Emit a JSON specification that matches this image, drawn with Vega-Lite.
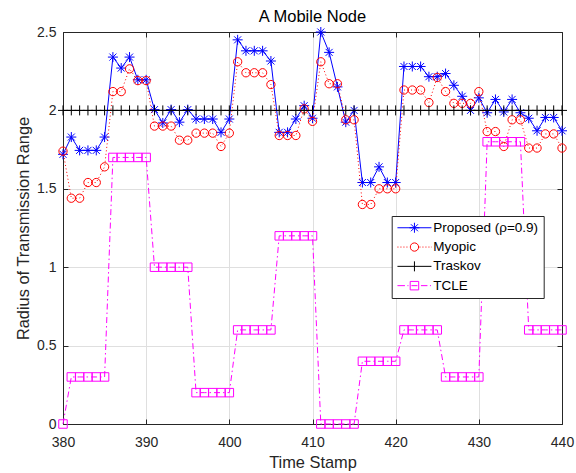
{
  "$schema": "https://vega.github.io/schema/vega-lite/v6.json",
  "width": 499,
  "height": 392,
  "autosize": {"type": "none"},
  "padding": {"left": 63, "top": 32, "right": 14, "bottom": 49},
  "background": "white",
  "config": {
    "font": "Liberation Sans",
    "view": {"stroke": "#262626", "strokeWidth": 1}
  },
  "title": {"text": "A Mobile Node", "fontSize": 16.5, "fontWeight": "normal", "color": "#000000", "font": "Liberation Sans", "frame": "group", "anchor": "middle", "offset": -0.5},
  "data": {"values": [
    {"s":"Proposed","t":380,"v":1.72},{"s":"Proposed","t":381,"v":1.83},{"s":"Proposed","t":382,"v":1.745},{"s":"Proposed","t":383,"v":1.745},{"s":"Proposed","t":384,"v":1.745},{"s":"Proposed","t":385,"v":1.83},{"s":"Proposed","t":386,"v":2.34},{"s":"Proposed","t":387,"v":2.27},{"s":"Proposed","t":388,"v":2.34},{"s":"Proposed","t":389,"v":2.195},{"s":"Proposed","t":390,"v":2.195},
    {"s":"Proposed","t":391,"v":2.005},{"s":"Proposed","t":392,"v":1.92},{"s":"Proposed","t":393,"v":2.005},{"s":"Proposed","t":394,"v":1.925},{"s":"Proposed","t":395,"v":2.005},{"s":"Proposed","t":396,"v":1.945},{"s":"Proposed","t":397,"v":1.945},{"s":"Proposed","t":398,"v":1.945},{"s":"Proposed","t":399,"v":1.86},{"s":"Proposed","t":400,"v":1.945},
    {"s":"Proposed","t":401,"v":2.45},{"s":"Proposed","t":402,"v":2.38},{"s":"Proposed","t":403,"v":2.38},{"s":"Proposed","t":404,"v":2.38},{"s":"Proposed","t":405,"v":2.315},{"s":"Proposed","t":406,"v":1.86},{"s":"Proposed","t":407,"v":1.86},{"s":"Proposed","t":408,"v":1.945},{"s":"Proposed","t":409,"v":2.03},{"s":"Proposed","t":410,"v":1.95},
    {"s":"Proposed","t":411,"v":2.5},{"s":"Proposed","t":412,"v":2.37},{"s":"Proposed","t":413,"v":2.15},{"s":"Proposed","t":414,"v":1.925},{"s":"Proposed","t":415,"v":2.0},{"s":"Proposed","t":416,"v":1.54},{"s":"Proposed","t":417,"v":1.54},{"s":"Proposed","t":418,"v":1.64},{"s":"Proposed","t":419,"v":1.54},{"s":"Proposed","t":420,"v":1.54},
    {"s":"Proposed","t":421,"v":2.28},{"s":"Proposed","t":422,"v":2.28},{"s":"Proposed","t":423,"v":2.28},{"s":"Proposed","t":424,"v":2.215},{"s":"Proposed","t":425,"v":2.215},{"s":"Proposed","t":426,"v":2.235},{"s":"Proposed","t":427,"v":2.16},{"s":"Proposed","t":428,"v":2.09},{"s":"Proposed","t":429,"v":2.0},{"s":"Proposed","t":430,"v":2.08},
    {"s":"Proposed","t":431,"v":1.985},{"s":"Proposed","t":432,"v":2.07},{"s":"Proposed","t":433,"v":1.99},{"s":"Proposed","t":434,"v":2.07},{"s":"Proposed","t":435,"v":1.985},{"s":"Proposed","t":436,"v":1.95},{"s":"Proposed","t":437,"v":1.87},{"s":"Proposed","t":438,"v":1.955},{"s":"Proposed","t":439,"v":1.955},{"s":"Proposed","t":440,"v":1.87},

    {"s":"Myopic","t":380,"v":1.74},{"s":"Myopic","t":381,"v":1.44},{"s":"Myopic","t":382,"v":1.44},{"s":"Myopic","t":383,"v":1.54},{"s":"Myopic","t":384,"v":1.54},{"s":"Myopic","t":385,"v":1.64},{"s":"Myopic","t":386,"v":2.12},{"s":"Myopic","t":387,"v":2.12},{"s":"Myopic","t":388,"v":2.265},{"s":"Myopic","t":389,"v":2.19},{"s":"Myopic","t":390,"v":2.19},
    {"s":"Myopic","t":391,"v":1.9},{"s":"Myopic","t":392,"v":1.9},{"s":"Myopic","t":393,"v":1.9},{"s":"Myopic","t":394,"v":1.81},{"s":"Myopic","t":395,"v":1.81},{"s":"Myopic","t":396,"v":1.855},{"s":"Myopic","t":397,"v":1.855},{"s":"Myopic","t":398,"v":1.855},{"s":"Myopic","t":399,"v":1.77},{"s":"Myopic","t":400,"v":1.855},
    {"s":"Myopic","t":401,"v":2.31},{"s":"Myopic","t":402,"v":2.24},{"s":"Myopic","t":403,"v":2.24},{"s":"Myopic","t":404,"v":2.24},{"s":"Myopic","t":405,"v":2.165},{"s":"Myopic","t":406,"v":1.84},{"s":"Myopic","t":407,"v":1.84},{"s":"Myopic","t":408,"v":1.84},{"s":"Myopic","t":409,"v":2.01},{"s":"Myopic","t":410,"v":1.93},
    {"s":"Myopic","t":411,"v":2.31},{"s":"Myopic","t":412,"v":2.17},{"s":"Myopic","t":413,"v":2.17},{"s":"Myopic","t":414,"v":1.94},{"s":"Myopic","t":415,"v":1.94},{"s":"Myopic","t":416,"v":1.4},{"s":"Myopic","t":417,"v":1.4},{"s":"Myopic","t":418,"v":1.5},{"s":"Myopic","t":419,"v":1.5},{"s":"Myopic","t":420,"v":1.5},
    {"s":"Myopic","t":421,"v":2.13},{"s":"Myopic","t":422,"v":2.13},{"s":"Myopic","t":423,"v":2.13},{"s":"Myopic","t":424,"v":2.05},{"s":"Myopic","t":425,"v":2.21},{"s":"Myopic","t":426,"v":2.12},{"s":"Myopic","t":427,"v":2.045},{"s":"Myopic","t":428,"v":2.045},{"s":"Myopic","t":429,"v":2.045},{"s":"Myopic","t":430,"v":2.12},
    {"s":"Myopic","t":431,"v":1.865},{"s":"Myopic","t":432,"v":1.865},{"s":"Myopic","t":433,"v":1.77},{"s":"Myopic","t":434,"v":1.94},{"s":"Myopic","t":435,"v":1.94},{"s":"Myopic","t":436,"v":1.76},{"s":"Myopic","t":437,"v":1.76},{"s":"Myopic","t":438,"v":1.85},{"s":"Myopic","t":439,"v":1.85},{"s":"Myopic","t":440,"v":1.76},

    {"s":"Traskov","t":380,"v":2},{"s":"Traskov","t":381,"v":2},{"s":"Traskov","t":382,"v":2},{"s":"Traskov","t":383,"v":2},{"s":"Traskov","t":384,"v":2},{"s":"Traskov","t":385,"v":2},{"s":"Traskov","t":386,"v":2},{"s":"Traskov","t":387,"v":2},{"s":"Traskov","t":388,"v":2},{"s":"Traskov","t":389,"v":2},{"s":"Traskov","t":390,"v":2},
    {"s":"Traskov","t":391,"v":2},{"s":"Traskov","t":392,"v":2},{"s":"Traskov","t":393,"v":2},{"s":"Traskov","t":394,"v":2},{"s":"Traskov","t":395,"v":2},{"s":"Traskov","t":396,"v":2},{"s":"Traskov","t":397,"v":2},{"s":"Traskov","t":398,"v":2},{"s":"Traskov","t":399,"v":2},{"s":"Traskov","t":400,"v":2},
    {"s":"Traskov","t":401,"v":2},{"s":"Traskov","t":402,"v":2},{"s":"Traskov","t":403,"v":2},{"s":"Traskov","t":404,"v":2},{"s":"Traskov","t":405,"v":2},{"s":"Traskov","t":406,"v":2},{"s":"Traskov","t":407,"v":2},{"s":"Traskov","t":408,"v":2},{"s":"Traskov","t":409,"v":2},{"s":"Traskov","t":410,"v":2},
    {"s":"Traskov","t":411,"v":2},{"s":"Traskov","t":412,"v":2},{"s":"Traskov","t":413,"v":2},{"s":"Traskov","t":414,"v":2},{"s":"Traskov","t":415,"v":2},{"s":"Traskov","t":416,"v":2},{"s":"Traskov","t":417,"v":2},{"s":"Traskov","t":418,"v":2},{"s":"Traskov","t":419,"v":2},{"s":"Traskov","t":420,"v":2},
    {"s":"Traskov","t":421,"v":2},{"s":"Traskov","t":422,"v":2},{"s":"Traskov","t":423,"v":2},{"s":"Traskov","t":424,"v":2},{"s":"Traskov","t":425,"v":2},{"s":"Traskov","t":426,"v":2},{"s":"Traskov","t":427,"v":2},{"s":"Traskov","t":428,"v":2},{"s":"Traskov","t":429,"v":2},{"s":"Traskov","t":430,"v":2},
    {"s":"Traskov","t":431,"v":2},{"s":"Traskov","t":432,"v":2},{"s":"Traskov","t":433,"v":2},{"s":"Traskov","t":434,"v":2},{"s":"Traskov","t":435,"v":2},{"s":"Traskov","t":436,"v":2},{"s":"Traskov","t":437,"v":2},{"s":"Traskov","t":438,"v":2},{"s":"Traskov","t":439,"v":2},{"s":"Traskov","t":440,"v":2},

    {"s":"TCLE","t":380,"v":0},{"s":"TCLE","t":381,"v":0.3},{"s":"TCLE","t":382,"v":0.3},{"s":"TCLE","t":383,"v":0.3},{"s":"TCLE","t":384,"v":0.3},{"s":"TCLE","t":385,"v":0.3},{"s":"TCLE","t":386,"v":1.7},{"s":"TCLE","t":387,"v":1.7},{"s":"TCLE","t":388,"v":1.7},{"s":"TCLE","t":389,"v":1.7},{"s":"TCLE","t":390,"v":1.7},
    {"s":"TCLE","t":391,"v":1.0},{"s":"TCLE","t":392,"v":1.0},{"s":"TCLE","t":393,"v":1.0},{"s":"TCLE","t":394,"v":1.0},{"s":"TCLE","t":395,"v":1.0},{"s":"TCLE","t":396,"v":0.2},{"s":"TCLE","t":397,"v":0.2},{"s":"TCLE","t":398,"v":0.2},{"s":"TCLE","t":399,"v":0.2},{"s":"TCLE","t":400,"v":0.2},
    {"s":"TCLE","t":401,"v":0.6},{"s":"TCLE","t":402,"v":0.6},{"s":"TCLE","t":403,"v":0.6},{"s":"TCLE","t":404,"v":0.6},{"s":"TCLE","t":405,"v":0.6},{"s":"TCLE","t":406,"v":1.2},{"s":"TCLE","t":407,"v":1.2},{"s":"TCLE","t":408,"v":1.2},{"s":"TCLE","t":409,"v":1.2},{"s":"TCLE","t":410,"v":1.2},
    {"s":"TCLE","t":411,"v":0},{"s":"TCLE","t":412,"v":0},{"s":"TCLE","t":413,"v":0},{"s":"TCLE","t":414,"v":0},{"s":"TCLE","t":415,"v":0},{"s":"TCLE","t":416,"v":0.4},{"s":"TCLE","t":417,"v":0.4},{"s":"TCLE","t":418,"v":0.4},{"s":"TCLE","t":419,"v":0.4},{"s":"TCLE","t":420,"v":0.4},
    {"s":"TCLE","t":421,"v":0.6},{"s":"TCLE","t":422,"v":0.6},{"s":"TCLE","t":423,"v":0.6},{"s":"TCLE","t":424,"v":0.6},{"s":"TCLE","t":425,"v":0.6},{"s":"TCLE","t":426,"v":0.3},{"s":"TCLE","t":427,"v":0.3},{"s":"TCLE","t":428,"v":0.3},{"s":"TCLE","t":429,"v":0.3},{"s":"TCLE","t":430,"v":0.3},
    {"s":"TCLE","t":431,"v":1.8},{"s":"TCLE","t":432,"v":1.8},{"s":"TCLE","t":433,"v":1.8},{"s":"TCLE","t":434,"v":1.8},{"s":"TCLE","t":435,"v":1.8},{"s":"TCLE","t":436,"v":0.6},{"s":"TCLE","t":437,"v":0.6},{"s":"TCLE","t":438,"v":0.6},{"s":"TCLE","t":439,"v":0.6},{"s":"TCLE","t":440,"v":0.6}
  ]},
  "resolve": {"axis": {"x": "independent", "y": "independent"}},
  "layer": [
    {
      "transform": [{"filter": {"field": "s", "equal": "Proposed"}}],
      "mark": {"type": "line", "strokeWidth": 1, "color": "#0000ff"},
      "encoding": {
        "x": {"field": "t", "type": "quantitative", "scale": {"domain": [380, 440], "nice": false, "zero": false},
          "axis": {"orient": "bottom", "values": [380, 390, 400, 410, 420, 430, 440], "grid": true, "gridColor": "#dfdfdf", "gridWidth": 1, "tickSize": -5, "tickColor": "#262626", "domainColor": "#262626", "labelFontSize": 14, "labelColor": "#262626", "labelPadding": 16.6, "labelFlush": false, "labelOverlap": false, "title": "Time Stamp", "titleFontSize": 16.4, "titleFontWeight": "normal", "titleColor": "#262626", "titlePadding": 5}},
        "y": {"field": "v", "type": "quantitative", "scale": {"domain": [0, 2.5], "nice": false, "zero": false},
          "axis": {"orient": "left", "values": [0, 0.5, 1, 1.5, 2, 2.5], "format": "~g", "grid": true, "gridColor": "#dfdfdf", "gridWidth": 1, "tickSize": -5, "tickColor": "#262626", "domainColor": "#262626", "labelFontSize": 14, "labelColor": "#262626", "labelPadding": 12, "labelFlush": false, "labelOverlap": false, "title": "Radius of Transmission Range", "titleFontSize": 16.4, "titleFontWeight": "normal", "titleColor": "#262626", "titlePadding": 5}}
      }
    },
    {
      "transform": [{"filter": {"field": "s", "equal": "Proposed"}}],
      "mark": {"type": "point", "shape": "M0,-1V1M-1,0H1M-0.7,-0.7L0.7,0.7M-0.7,0.7L0.7,-0.7", "filled": false, "size": 100, "strokeWidth": 1, "color": "#0000ff", "opacity": 1},
      "encoding": {
        "x": {"field": "t", "type": "quantitative", "scale": {"domain": [380, 440], "nice": false, "zero": false}, "axis": null},
        "y": {"field": "v", "type": "quantitative", "scale": {"domain": [0, 2.5], "nice": false, "zero": false}, "axis": null}
      }
    },
    {
      "transform": [{"filter": {"field": "s", "equal": "Myopic"}}],
      "mark": {"type": "line", "strokeWidth": 1, "color": "#ff0000", "strokeDash": [1, 2.5]},
      "encoding": {
        "x": {"field": "t", "type": "quantitative", "scale": {"domain": [380, 440], "nice": false, "zero": false}, "axis": null},
        "y": {"field": "v", "type": "quantitative", "scale": {"domain": [0, 2.5], "nice": false, "zero": false}, "axis": null}
      }
    },
    {
      "transform": [{"filter": {"field": "s", "equal": "Myopic"}}],
      "mark": {"type": "point", "shape": "circle", "filled": false, "size": 69, "strokeWidth": 1, "color": "#ff0000", "opacity": 1},
      "encoding": {
        "x": {"field": "t", "type": "quantitative", "scale": {"domain": [380, 440], "nice": false, "zero": false}, "axis": null},
        "y": {"field": "v", "type": "quantitative", "scale": {"domain": [0, 2.5], "nice": false, "zero": false}, "axis": null}
      }
    },
    {
      "transform": [{"filter": {"field": "s", "equal": "Traskov"}}],
      "mark": {"type": "line", "strokeWidth": 1, "color": "#000000"},
      "encoding": {
        "x": {"field": "t", "type": "quantitative", "scale": {"domain": [380, 440], "nice": false, "zero": false}, "axis": null},
        "y": {"field": "v", "type": "quantitative", "scale": {"domain": [0, 2.5], "nice": false, "zero": false}, "axis": null}
      }
    },
    {
      "transform": [{"filter": {"field": "s", "equal": "Traskov"}}],
      "mark": {"type": "point", "shape": "M0,-1V1M-1,0H1", "filled": false, "size": 100, "strokeWidth": 1, "color": "#000000", "opacity": 1},
      "encoding": {
        "x": {"field": "t", "type": "quantitative", "scale": {"domain": [380, 440], "nice": false, "zero": false},
          "axis": {"orient": "top", "values": [380, 390, 400, 410, 420, 430, 440], "labels": false, "grid": false, "tickSize": -5, "tickColor": "#262626", "domainColor": "#262626", "title": null}},
        "y": {"field": "v", "type": "quantitative", "scale": {"domain": [0, 2.5], "nice": false, "zero": false},
          "axis": {"orient": "right", "values": [0, 0.5, 1, 1.5, 2, 2.5], "labels": false, "grid": false, "tickSize": -5, "tickColor": "#262626", "domainColor": "#262626", "title": null}}
      }
    },
    {
      "transform": [{"filter": {"field": "s", "equal": "TCLE"}}],
      "mark": {"type": "line", "strokeWidth": 1, "color": "#ff00ff", "strokeDash": [6, 3, 1.5, 3]},
      "encoding": {
        "x": {"field": "t", "type": "quantitative", "scale": {"domain": [380, 440], "nice": false, "zero": false}, "axis": null},
        "y": {"field": "v", "type": "quantitative", "scale": {"domain": [0, 2.5], "nice": false, "zero": false}, "axis": null}
      }
    },
    {
      "transform": [{"filter": {"field": "s", "equal": "TCLE"}}],
      "mark": {"type": "point", "shape": "square", "filled": false, "size": 72, "strokeWidth": 1, "color": "#ff00ff", "opacity": 1},
      "encoding": {
        "x": {"field": "t", "type": "quantitative", "scale": {"domain": [380, 440], "nice": false, "zero": false}, "axis": null},
        "y": {"field": "v", "type": "quantitative", "scale": {"domain": [0, 2.5], "nice": false, "zero": false}, "axis": null}
      }
    },
    {
      "mark": {"type": "point", "filled": false, "size": 100, "strokeWidth": 1, "opacity": 0},
      "encoding": {
        "x": {"field": "t", "type": "quantitative", "scale": {"domain": [380, 440], "nice": false, "zero": false}, "axis": null},
        "y": {"field": "v", "type": "quantitative", "scale": {"domain": [0, 2.5], "nice": false, "zero": false}, "axis": null},
        "color": {"field": "s", "type": "nominal", "scale": {"domain": ["Proposed", "Myopic", "Traskov", "TCLE"], "range": ["#0000ff", "#ff0000", "#000000", "#ff00ff"]},
          "legend": {"title": null, "orient": "none", "legendX": 328.7, "legendY": 184, "fillColor": "#ffffff", "strokeColor": "#262626", "padding": 5, "cornerRadius": 0, "labelFont": "Liberation Sans", "labelFontSize": 13.5, "labelColor": "#000000", "labelOffset": 23, "labelLimit": 300, "rowPadding": 4.3, "symbolSize": 100, "symbolStrokeWidth": 1, "symbolOpacity": 1, "labelExpr": "datum.label == 'Proposed' ? 'Proposed (ρ=0.9)' : datum.label"}},
        "shape": {"field": "s", "type": "nominal", "scale": {"domain": ["Proposed", "Myopic", "Traskov", "TCLE"], "range": [
          "M-1.2,0H5.6M2.2,-1V1M1.2,0H3.2M1.5,-0.7L2.9,0.7M1.5,0.7L2.9,-0.7",
          "M-1.2,0h0.2M-0.6,0h0.2M0,0h0.2M0.6,0h0.2M3.2,0h0.2M3.8,0h0.2M4.4,0h0.2M5,0h0.2M5.5,0h0.1M3.03,0A0.83,0.83,0,1,1,1.37,0A0.83,0.83,0,1,1,3.03,0Z",
          "M-1.2,0H5.6M2.2,-1V1",
          "M-1.2,0H0.3M0.8,0h0.2M1.35,-0.85H3.05V0.85H1.35ZM1.6,0H2.8M3.5,0H4.8M5.3,0h0.2"]},
          "legend": {"title": null, "orient": "none", "legendX": 328.7, "legendY": 184, "fillColor": "#ffffff", "strokeColor": "#262626", "padding": 5, "cornerRadius": 0, "labelFont": "Liberation Sans", "labelFontSize": 13.5, "labelColor": "#000000", "labelOffset": 23, "labelLimit": 300, "rowPadding": 4.3, "symbolSize": 100, "symbolStrokeWidth": 1, "symbolOpacity": 1, "labelExpr": "datum.label == 'Proposed' ? 'Proposed (ρ=0.9)' : datum.label"}}
      }
    }
  ]
}
